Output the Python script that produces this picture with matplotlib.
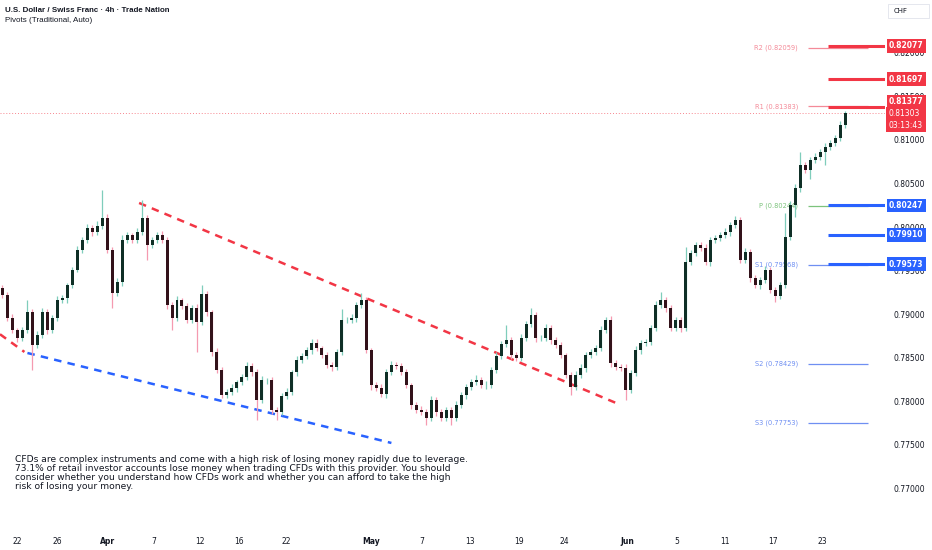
import matplotlib
matplotlib.use("Agg")
import matplotlib.pyplot as plt
import matplotlib.transforms as mtrans
from matplotlib.patches import Rectangle

plt.rcParams['font.family'] = ['DejaVu Sans']

# 4h closes (one candle every ~5 px)
closes = [
    0.79220, 0.78957, 0.78819, 0.78727, 0.78819, 0.79025, 0.78647, 0.78762, 0.79025, 0.78819,
    0.78957, 0.79163, 0.79186, 0.79335, 0.79507, 0.79737, 0.79851, 0.79989, 0.79943, 0.80012,
    0.80104, 0.79737, 0.79243, 0.79370, 0.79851, 0.79909, 0.79851, 0.79943, 0.80104, 0.79794,
    0.79851, 0.79909, 0.79851, 0.79106, 0.78957, 0.79163, 0.79094, 0.78934, 0.79071, 0.78911,
    0.79232, 0.79025, 0.78567, 0.78360, 0.78073, 0.78108, 0.78154, 0.78223, 0.78280, 0.78406,
    0.78337, 0.78016, 0.78245, 0.78245, 0.77901, 0.77878, 0.78062, 0.78108, 0.78337, 0.78475,
    0.78521, 0.78590, 0.78670, 0.78612, 0.78532, 0.78417, 0.78395, 0.78567, 0.78934, 0.78934,
    0.78957, 0.79106, 0.79163, 0.78590, 0.78188, 0.78154, 0.78085, 0.78337, 0.78417, 0.78406,
    0.78337, 0.78188, 0.77959, 0.77901, 0.77878, 0.77810, 0.78016, 0.77878, 0.77810, 0.77901,
    0.77810, 0.77959, 0.78073, 0.78165, 0.78223, 0.78245, 0.78188, 0.78188, 0.78360, 0.78521,
    0.78658, 0.78704, 0.78532, 0.78498, 0.78727, 0.78888, 0.78991, 0.78727, 0.78727, 0.78842,
    0.78704, 0.78647, 0.78532, 0.78303, 0.78165, 0.78303, 0.78383, 0.78532, 0.78567, 0.78612,
    0.78819, 0.78934, 0.78440, 0.78395, 0.78383, 0.78131, 0.78326, 0.78590, 0.78670, 0.78681,
    0.78842, 0.79106, 0.79163, 0.79071, 0.78842, 0.78934, 0.78842, 0.79599, 0.79702, 0.79794,
    0.79759, 0.79599, 0.79851, 0.79874, 0.79909, 0.79943, 0.80023, 0.80081, 0.79622, 0.79714,
    0.79415, 0.79335, 0.79392, 0.79507, 0.79278, 0.79209, 0.79335, 0.79886, 0.80253, 0.80448,
    0.80711, 0.80654, 0.80769, 0.80803, 0.80861, 0.80918, 0.80964, 0.81021, 0.81170, 0.81303,
]
first_open = 0.79300

# wick lengths beyond the body, in pips
wick_up = [
    4, 3, 5, 2, 3, 14, 3, 4, 5, 3,
    3, 4, 3, 2, 3, 5, 3, 4, 3, 6,
    32, 5, 3, 4, 6, 3, 2, 4, 21, 3,
    4, 3, 5, 3, 3, 5, 2, 4, 3, 5,
    10, 3, 2, 4, 3, 3, 5, 2, 3, 4,
    3, 3, 5, 2, 3, 4, 3, 5, 2, 4,
    3, 3, 4, 5, 2, 3, 4, 3, 12, 3,
    4, 3, 8, 3, 2, 3, 4, 3, 5, 3,
    3, 4, 2, 3, 5, 3, 4, 3, 3, 4,
    3, 5, 3, 4, 3, 6, 3, 4, 3, 5,
    4, 17, 3, 4, 5, 3, 8, 3, 4, 5,
    3, 4, 3, 2, 3, 5, 4, 3, 3, 4,
    5, 3, 4, 3, 3, 4, 3, 5, 3, 4,
    3, 5, 9, 3, 4, 3, 3, 17, 4, 3,
    3, 5, 3, 4, 3, 5, 3, 4, 3, 4,
    3, 4, 3, 5, 3, 3, 4, 28, 5, 4,
    15, 4, 3, 5, 3, 4, 3, 4, 5, 3,
]
wick_dn = [
    3, 4, 3, 5, 3, 3, 29, 4, 3, 5,
    3, 4, 3, 6, 3, 2, 4, 3, 5, 3,
    3, 4, 17, 3, 5, 3, 4, 3, 3, 17,
    4, 3, 3, 5, 14, 3, 4, 3, 3, 34,
    3, 4, 5, 3, 4, 3, 3, 5, 4, 3,
    5, 23, 3, 4, 5, 9, 3, 4, 3, 5,
    3, 4, 5, 3, 4, 3, 5, 3, 4, 3,
    3, 5, 3, 4, 6, 3, 4, 5, 3, 3,
    4, 3, 5, 3, 4, 8, 3, 5, 4, 3,
    8, 3, 4, 5, 3, 4, 3, 5, 3, 4,
    3, 4, 5, 3, 4, 3, 3, 5, 4, 3,
    5, 3, 4, 3, 9, 4, 3, 5, 3, 4,
    3, 4, 5, 3, 4, 11, 3, 4, 5, 3,
    4, 3, 3, 5, 4, 3, 5, 4, 3, 4,
    3, 4, 5, 3, 4, 3, 5, 3, 4, 3,
    4, 3, 5, 3, 4, 7, 3, 4, 3, 14,
    5, 4, 10, 3, 4, 15, 3, 4, 3, 3,
]

tick_pos = [3, 11, 21, 30.4, 39.6, 47.4, 57, 74, 84, 93.8, 103.6, 112.6, 125.4, 135.2, 145, 154.6, 164.4]
tick_labels = ['22', '26', 'Apr', '7', '12', '16', '22', 'May', '7', '13', '19', '24', 'Jun', '5', '11', '17', '23']

pivot_names = ['R2', 'R1', 'P', 'S1', 'S2', 'S3']
pivot_levels = [0.82059, 0.81383, 0.80244, 0.79568, 0.78429, 0.77753]
pivot_colors = ['#f48a98', '#f48a98', '#7cc37c', '#6f8ff2', '#6f8ff2', '#6f8ff2']

red_levels = [0.82077, 0.81697, 0.81377]
blue_levels = [0.80247, 0.79910, 0.79573]
last_price = 0.81303
countdown = '03:13:43'

# trendlines as (index, price) end points
upper_line = [(27.4, 0.80276), (124.0, 0.77959)]
lower_line = [(5.0, 0.78555), (78.0, 0.77523)]
left_line = [(-0.5, 0.78770), (4.4, 0.78567)]

disclaimer = ("CFDs are complex instruments and come with a high risk of losing money rapidly due to leverage.\n"
              "73.1% of retail investor accounts lose money when trading CFDs with this provider. You should\n"
              "consider whether you understand how CFDs work and whether you can afford to take the high\n"
              "risk of losing your money.")

RED = '#f23645'
BLUE = '#2962ff'

fig = plt.figure(figsize=(9.32, 5.5), dpi=100)
ax = fig.add_axes([0, 23 / 550, 885 / 932, 527 / 550])
ax.set_xlim(-0.5, 177)
ax.set_ylim(0.76559, 0.82604)
for s in ax.spines.values():
    s.set_visible(False)

# candles
opens = [first_open] + closes[:-1]
for i in range(len(closes)):
    o = opens[i]
    c = closes[i]
    hi = max(o, c) + wick_up[i] * 0.0001
    lo = min(o, c) - wick_dn[i] * 0.0001
    up = c >= o
    wcol = '#7fcdbb' if up else '#f59ab0'
    bcol = '#0f2f26' if up else '#33121a'
    ax.vlines(i, lo, hi, color=wcol, linewidth=0.9, zorder=3)
    h = max(abs(c - o), 0.00004)
    ax.bar(i, h, bottom=min(o, c), width=0.6, color=bcol, linewidth=0, zorder=4)

# trendlines
for pts, col in [(upper_line, RED), (lower_line, BLUE), (left_line, RED)]:
    ax.plot([pts[0][0], pts[1][0]], [pts[0][1], pts[1][1]], color=col, linewidth=1.8,
            linestyle=(0, (3, 2.5)), zorder=2, solid_capstyle='butt')

# pivots
for name, lvl, col in zip(pivot_names, pivot_levels, pivot_colors):
    ax.hlines(lvl, 161.6, 173.6, color=col, linewidth=0.9, zorder=2)
    ax.text(159.6, lvl, '%s (%.5f)' % (name, lvl), color=col, fontsize=4.8,
            ha='right', va='center', zorder=2)

# last price line
ax.axhline(last_price, color=RED, linewidth=0.7, linestyle=(0, (1, 2)), alpha=0.6, zorder=1)

for lvl in red_levels:
    ax.hlines(lvl, 165.6, 177, color=RED, linewidth=2.2, zorder=5)
for lvl in blue_levels:
    ax.hlines(lvl, 165.6, 177, color=BLUE, linewidth=2.2, zorder=5)

# axes ticks
ax.set_xticks(tick_pos)
ax.set_xticklabels(tick_labels)
for lab in ax.get_xticklabels():
    if lab.get_text() in ('Apr', 'May', 'Jun'):
        lab.set_fontweight('bold')
ax.tick_params(axis='x', length=0, pad=7, labelsize=5.5, colors='#131722')
yt = [0.770 + 0.005 * k for k in range(11)]
ax.yaxis.tick_right()
ax.set_yticks(yt)
ax.set_yticklabels(['%.5f' % v for v in yt])
ax.tick_params(axis='y', length=0, pad=6, labelsize=5.5, colors='#131722')

# price boxes on the right scale (top red one nudged up like the platform does)
trans = mtrans.blended_transform_factory(ax.transAxes, ax.transData)
box_y = {0.82077: 0.82077, 0.81697: 0.81697, 0.81377: 0.81434}
for lvl in red_levels:
    ax.text(1.0045, box_y[lvl], '%.5f' % lvl, transform=trans, color='white', fontsize=5.5,
            fontweight='bold', ha='left', va='center', zorder=6, clip_on=False,
            bbox=dict(boxstyle='square,pad=0.3', fc=RED, ec='none'))
for lvl in blue_levels:
    ax.text(1.0045, lvl, '%.5f' % lvl, transform=trans, color='white', fontsize=5.5,
            fontweight='bold', ha='left', va='center', zorder=6, clip_on=False,
            bbox=dict(boxstyle='square,pad=0.3', fc=BLUE, ec='none'))
ax.text(1.0045, 0.81233, '%.5f\n%s' % (last_price, countdown), transform=trans,
        color='white', fontsize=5.5, ha='left', va='center', zorder=7, clip_on=False,
        linespacing=1.3, bbox=dict(boxstyle='square,pad=0.35', fc=RED, ec='none'))

# header
fig.text(5 / 932, 1 - 10 / 550, 'U.S. Dollar / Swiss Franc · 4h · Trade Nation', fontsize=5.7,
         fontweight='bold', color='#131722', va='center', ha='left', family='Liberation Sans')
fig.text(5 / 932, 1 - 21 / 550, 'Pivots (Traditional, Auto)', fontsize=5.8,
         color='#131722', va='center', ha='left', family='Liberation Sans')
fig.patches.append(Rectangle((888 / 932, 1 - 18 / 550), 41 / 932, 14 / 550, transform=fig.transFigure,
                             fc='white', ec='#e0e3eb', lw=0.6))
fig.text(894 / 932, 1 - 11 / 550, 'CHF', fontsize=5, color='#131722', va='center', ha='left')

fig.text(15 / 932, 1 - 455 / 550, disclaimer, fontsize=6.6, color='#131722',
         va='top', ha='left', linespacing=1.02)

fig.savefig('out.png', dpi=100)
